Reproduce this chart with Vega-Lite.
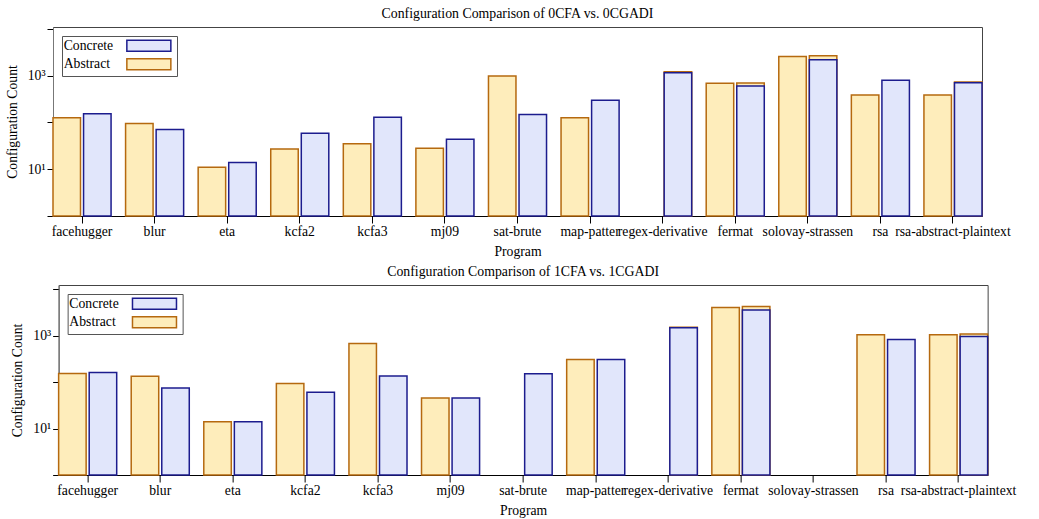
{
  "$schema": "https://vega.github.io/schema/vega-lite/v6.json",
  "padding": {"left": 4, "top": 6, "right": 5, "bottom": 2},
  "spacing": 5,
  "center": true,
  "resolve": {"legend": {"fill": "independent", "stroke": "independent"}},
  "config": {
    "font": "Liberation Serif",
    "view": {"stroke": "#444", "strokeWidth": 1},
    "title": {"fontSize": 13.8, "fontWeight": "normal", "font": "Liberation Serif", "color": "#000", "offset": 6},
    "axis": {"labelFont": "Liberation Serif", "titleFont": "Liberation Serif", "labelFontSize": 13.7, "titleFontSize": 13.7, "titleFontWeight": "normal", "labelColor": "#000", "titleColor": "#000", "tickColor": "#000", "grid": false},
    "legend": {"labelFont": "Liberation Serif", "labelFontSize": 13.7, "labelColor": "#000", "title": null, "orient": "top-left", "offset": 9, "symbolType": "M-4,-1H4V1H-4Z", "symbolSize": 121, "symbolStrokeWidth": 1.5, "strokeColor": "#555", "fillColor": "#fff", "padding": 3, "rowPadding": 0.5, "symbolOffset": 77, "labelOffset": -92}
  },
  "datasets": {
    "top": [
      {"program": "facehugger", "slot": "A", "kind": "Abstract", "count": 126},
      {"program": "blur", "slot": "A", "kind": "Abstract", "count": 95},
      {"program": "eta", "slot": "A", "kind": "Abstract", "count": 11},
      {"program": "kcfa2", "slot": "A", "kind": "Abstract", "count": 27},
      {"program": "kcfa3", "slot": "A", "kind": "Abstract", "count": 35},
      {"program": "mj09", "slot": "A", "kind": "Abstract", "count": 28},
      {"program": "sat-brute", "slot": "A", "kind": "Abstract", "count": 985},
      {"program": "map-patter", "slot": "A", "kind": "Abstract", "count": 126},
      {"program": "fermat", "slot": "A", "kind": "Abstract", "count": 686},
      {"program": "solovay-strassen", "slot": "A", "kind": "Abstract", "count": 2570},
      {"program": "rsa", "slot": "A", "kind": "Abstract", "count": 388},
      {"program": "rsa-abstract-plaintext", "slot": "A", "kind": "Abstract", "count": 388},
      {"program": "regex-derivative", "slot": "C", "kind": "Abstract", "count": 1210},
      {"program": "fermat", "slot": "C", "kind": "Abstract", "count": 700},
      {"program": "solovay-strassen", "slot": "C", "kind": "Abstract", "count": 2680},
      {"program": "rsa-abstract-plaintext", "slot": "C", "kind": "Abstract", "count": 735},
      {"program": "facehugger", "slot": "C", "kind": "Concrete", "count": 153},
      {"program": "blur", "slot": "C", "kind": "Concrete", "count": 71},
      {"program": "eta", "slot": "C", "kind": "Concrete", "count": 14},
      {"program": "kcfa2", "slot": "C", "kind": "Concrete", "count": 59},
      {"program": "kcfa3", "slot": "C", "kind": "Concrete", "count": 130},
      {"program": "mj09", "slot": "C", "kind": "Concrete", "count": 44},
      {"program": "sat-brute", "slot": "C", "kind": "Concrete", "count": 148},
      {"program": "map-patter", "slot": "C", "kind": "Concrete", "count": 299},
      {"program": "regex-derivative", "slot": "C", "kind": "Concrete", "count": 1150},
      {"program": "fermat", "slot": "C", "kind": "Concrete", "count": 604},
      {"program": "solovay-strassen", "slot": "C", "kind": "Concrete", "count": 2190},
      {"program": "rsa", "slot": "C", "kind": "Concrete", "count": 795},
      {"program": "rsa-abstract-plaintext", "slot": "C", "kind": "Concrete", "count": 707}
    ],
    "bottom": [
      {"program": "facehugger", "slot": "A", "kind": "Abstract", "count": 154},
      {"program": "blur", "slot": "A", "kind": "Abstract", "count": 135},
      {"program": "eta", "slot": "A", "kind": "Abstract", "count": 14},
      {"program": "kcfa2", "slot": "A", "kind": "Abstract", "count": 94},
      {"program": "kcfa3", "slot": "A", "kind": "Abstract", "count": 685},
      {"program": "mj09", "slot": "A", "kind": "Abstract", "count": 46},
      {"program": "map-patter", "slot": "A", "kind": "Abstract", "count": 309},
      {"program": "fermat", "slot": "A", "kind": "Abstract", "count": 4100},
      {"program": "rsa", "slot": "A", "kind": "Abstract", "count": 1057},
      {"program": "rsa-abstract-plaintext", "slot": "A", "kind": "Abstract", "count": 1057},
      {"program": "regex-derivative", "slot": "C", "kind": "Abstract", "count": 1540},
      {"program": "fermat", "slot": "C", "kind": "Abstract", "count": 4310},
      {"program": "rsa-abstract-plaintext", "slot": "C", "kind": "Abstract", "count": 1095},
      {"program": "facehugger", "slot": "C", "kind": "Concrete", "count": 162},
      {"program": "blur", "slot": "C", "kind": "Concrete", "count": 75},
      {"program": "eta", "slot": "C", "kind": "Concrete", "count": 14},
      {"program": "kcfa2", "slot": "C", "kind": "Concrete", "count": 61},
      {"program": "kcfa3", "slot": "C", "kind": "Concrete", "count": 137},
      {"program": "mj09", "slot": "C", "kind": "Concrete", "count": 46},
      {"program": "sat-brute", "slot": "C", "kind": "Concrete", "count": 152},
      {"program": "map-patter", "slot": "C", "kind": "Concrete", "count": 309},
      {"program": "regex-derivative", "slot": "C", "kind": "Concrete", "count": 1496},
      {"program": "fermat", "slot": "C", "kind": "Concrete", "count": 3600},
      {"program": "rsa", "slot": "C", "kind": "Concrete", "count": 836},
      {"program": "rsa-abstract-plaintext", "slot": "C", "kind": "Concrete", "count": 970}
    ]
  },
  "vconcat": [
    {
      "title": "Configuration Comparison of 0CFA vs. 0CGADI",
      "width": 929,
      "height": 189,
      "resolve": {"axis": {"y": "independent"}},
      "layer": [
        {
          "data": {"name": "top"},
          "mark": {"type": "bar", "strokeWidth": 1.5},
          "encoding": {
            "x": {"field": "program", "type": "nominal", "sort": null,
              "scale": {"domain": ["facehugger", "blur", "eta", "kcfa2", "kcfa3", "mj09", "sat-brute", "map-patter", "regex-derivative", "fermat", "solovay-strassen", "rsa", "rsa-abstract-plaintext"], "paddingInner": 0.2, "paddingOuter": 0},
              "axis": {"title": "Program", "labelAngle": 0, "tickSize": 7, "labelPadding": 1, "titlePadding": 7, "domainColor": "#000", "labelOverlap": false, "labelLimit": 0}},
            "xOffset": {"field": "slot", "type": "nominal", "sort": ["A", "C"], "scale": {"paddingInner": 0.1}},
            "y": {"field": "count", "type": "quantitative", "stack": null,
              "scale": {"type": "log", "domain": [1, 11000], "nice": false},
              "axis": {"title": "Configuration Count", "values": [1, 10, 100, 1000, 10000], "labelExpr": "datum.value == 10 ? '10¹' : datum.value == 1000 ? '10³' : ''", "domainColor": "#777", "tickSize": 6, "labelPadding": 2, "titlePadding": 8}},
            "y2": {"datum": 1},
            "fill": {"field": "kind", "type": "nominal",
              "scale": {"domain": ["Concrete", "Abstract"], "range": ["#E1E6FB", "#FEEDBB"]}},
            "stroke": {"field": "kind", "type": "nominal",
              "scale": {"domain": ["Concrete", "Abstract"], "range": ["#1C1C8E", "#B5690F"]}}
          }
        },
        {
          "data": {"values": [{"v": 1}]},
          "mark": {"type": "rule", "opacity": 0},
          "encoding": {
            "y": {"field": "v", "type": "quantitative",
              "axis": {"orient": "right", "title": null, "labels": false, "domain": false, "ticks": true, "tickSize": 39, "tickColor": "transparent", "values": [1]}}
          }
        }
      ]
    },
    {
      "title": "Configuration Comparison of 1CFA vs. 1CGADI",
      "width": 929,
      "height": 190,
      "data": {"name": "bottom"},
      "mark": {"type": "bar", "strokeWidth": 1.5},
      "encoding": {
        "x": {"field": "program", "type": "nominal", "sort": null,
          "scale": {"domain": ["facehugger", "blur", "eta", "kcfa2", "kcfa3", "mj09", "sat-brute", "map-patter", "regex-derivative", "fermat", "solovay-strassen", "rsa", "rsa-abstract-plaintext"], "paddingInner": 0.2, "paddingOuter": 0},
          "axis": {"title": "Program", "labelAngle": 0, "tickSize": 7, "labelPadding": 1, "titlePadding": 7, "domainColor": "#000", "labelOverlap": false, "labelLimit": 0}},
        "xOffset": {"field": "slot", "type": "nominal", "sort": ["A", "C"], "scale": {"paddingInner": 0.1}},
        "y": {"field": "count", "type": "quantitative", "stack": null,
          "scale": {"type": "log", "domain": [1, 12500], "nice": false},
          "axis": {"title": "Configuration Count", "values": [1, 10, 100, 1000, 10000], "labelExpr": "datum.value == 10 ? '10¹' : datum.value == 1000 ? '10³' : ''", "domainColor": "#777", "tickSize": 6, "labelPadding": 2, "titlePadding": 8}},
        "y2": {"datum": 1},
        "fill": {"field": "kind", "type": "nominal",
          "scale": {"domain": ["Concrete", "Abstract"], "range": ["#E1E6FB", "#FEEDBB"]}},
        "stroke": {"field": "kind", "type": "nominal",
          "scale": {"domain": ["Concrete", "Abstract"], "range": ["#1C1C8E", "#B5690F"]}}
      }
    }
  ]
}
